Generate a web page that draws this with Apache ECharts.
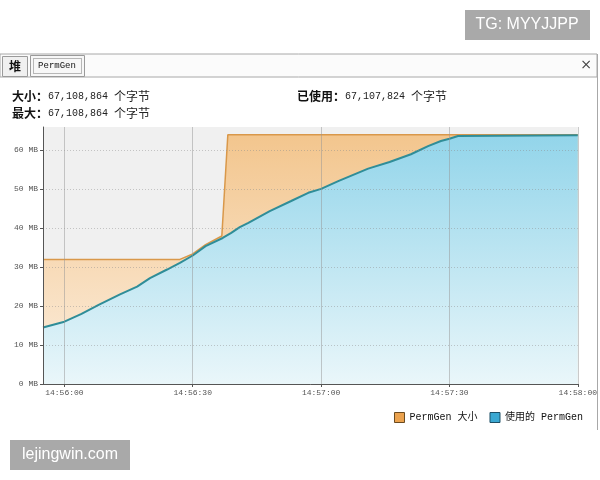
<!DOCTYPE html>
<html>
<head>
<meta charset="utf-8">
<script src="https://cdn.jsdelivr.net/npm/echarts@6/dist/echarts.min.js"></script>
<style>
  html, body { margin: 0; padding: 0; background: #fff; }
  #container { width: 600px; height: 480px; }
</style>
</head>
<body>
<div id="container"></div>
<script>
// seconds relative to 14:56:00
var usedSec = [-5, 0, 4, 8, 13, 17, 20, 24, 27, 30, 33, 37, 39, 41, 43, 48, 53, 57, 60, 64, 71, 76, 81, 85, 88, 90, 92, 120];
var usedMB = [14.5, 16.0, 18.0, 20.3, 23.0, 25.0, 27.2, 29.4, 31.1, 33.0, 35.4, 37.5, 38.8, 40.3, 41.4, 44.4, 47.0, 49.1, 50.1, 52.1, 55.3, 57.0, 59.0, 61.1, 62.4, 63.0, 63.7, 63.9];

var sizeSec = [-5, 27, 30, 33, 36.8, 38.2, 120];
var sizeMB = [32, 32, 33.4, 35.8, 38.0, 64, 64];

var xTicks = [0, 30, 60, 90, 120];
var yTicks = [0, 10, 20, 30, 40, 50, 60];
var seriesNames = ['PermGen 大小', '使用的 PermGen'];

function pairs(xs, ys) {
    return xs.map(function (x, i) { return [x, ys[i]]; });
}

function fmtTime(t) {
    var s = 14 * 3600 + 56 * 60 + t;
    var h = Math.floor(s / 3600), m = Math.floor(s % 3600 / 60), sec = s % 60;
    function p(n) { return (n < 10 ? '0' : '') + n; }
    return p(h) + ':' + p(m) + ':' + p(sec);
}

window.onload = function () {
    var dom = document.getElementById('container');
    var myChart = echarts.init(dom);
    var mono = '"Liberation Mono", monospace';
    var cjk = '"Noto Sans CJK SC", sans-serif';

    var header = {
        b: { fontFamily: cjk, fontWeight: 'bold', fontSize: 12, fill: '#111' },
        n: { fontFamily: mono, fontSize: 10, fill: '#222' },
        c: { fontFamily: cjk, fontSize: 12, fill: '#222' }
    };

    var option = {
        backgroundColor: '#fff',
        animation: false,
        graphic: [
            // watermarks
            { type: 'rect', shape: { x: 465, y: 10, width: 125, height: 30 }, style: { fill: '#a9a9a9' } },
            { type: 'text', x: 527, y: 25, style: { text: 'TG: MYYJJPP', fill: '#fff', font: '16px "Liberation Sans", Arial', align: 'center', verticalAlign: 'middle' } },
            { type: 'rect', shape: { x: 10, y: 440, width: 120, height: 30 }, style: { fill: '#a9a9a9' } },
            { type: 'text', x: 70, y: 455, style: { text: 'lejingwin.com', fill: '#fff', font: '16px "Liberation Sans", Arial', align: 'center', verticalAlign: 'middle' } },
            // window frame
            { type: 'rect', shape: { x: 0, y: 54, width: 597, height: 23 }, style: { fill: '#fbfbfb', stroke: '#a8a8a8', lineWidth: 1 } },
            { type: 'line', shape: { x1: 597.5, y1: 54, x2: 597.5, y2: 430 }, style: { stroke: '#a8a8a8', lineWidth: 1 } },
            { type: 'rect', shape: { x: 2.5, y: 56.5, width: 25, height: 20 }, style: { fill: '#f0f0f0', stroke: '#9a9a9a', lineWidth: 1 } },
            { type: 'text', x: 15, y: 66, style: { text: '堆', font: 'bold 12px "Noto Sans CJK SC"', fill: '#111', align: 'center', verticalAlign: 'middle' } },
            { type: 'rect', shape: { x: 30.5, y: 55.5, width: 54, height: 21 }, style: { fill: '#f7f7f7', stroke: '#9a9a9a', lineWidth: 1 } },
            { type: 'rect', shape: { x: 33.5, y: 58.5, width: 48, height: 15 }, style: { fill: 'none', stroke: '#777', lineWidth: 1, lineDash: [1, 1] } },
            { type: 'text', x: 57, y: 66, style: { text: 'PermGen', font: '9px "Liberation Mono"', fill: '#111', align: 'center', verticalAlign: 'middle' } },
            { type: 'text', x: 586, y: 65, style: { text: '×', font: '14px "DejaVu Sans"', fill: '#444', align: 'center', verticalAlign: 'middle' } },
            // header values
            { type: 'text', x: 12, y: 96, style: { text: '{b|大小：}{n|67,108,864 }{c|个字节}', rich: header, verticalAlign: 'middle' } },
            { type: 'text', x: 12, y: 113, style: { text: '{b|最大：}{n|67,108,864 }{c|个字节}', rich: header, verticalAlign: 'middle' } },
            { type: 'text', x: 297, y: 96, style: { text: '{b|已使用：}{n|67,107,824 }{c|个字节}', rich: header, verticalAlign: 'middle' } }
        ],
        grid: {
            left: 43, right: 21, top: 127, bottom: 96,
            show: true,
            backgroundColor: '#f0f0f0',
            borderWidth: 0
        },
        legend: {
            right: 12,
            top: 407,
            itemWidth: 10,
            itemHeight: 10,
            itemGap: 12,
            icon: 'rect',
            textStyle: { fontFamily: mono + ', ' + cjk, fontSize: 10, color: '#111' },
            data: [
                { name: seriesNames[0], itemStyle: { color: '#eba24e', borderColor: '#6a4a20', borderWidth: 1 } },
                { name: seriesNames[1], itemStyle: { color: '#3aa8d2', borderColor: '#1d4f66', borderWidth: 1 } }
            ]
        },
        xAxis: {
            type: 'value',
            min: -5,
            max: 120,
            z: 5,
            axisLine: { onZero: false, lineStyle: { color: '#555' } },
            axisTick: { length: 3, customValues: xTicks, lineStyle: { color: '#555' } },
            axisLabel: {
                customValues: xTicks,
                fontFamily: mono, fontSize: 8, color: '#555', margin: 5,
                formatter: fmtTime
            },
            splitLine: { show: true, lineStyle: { color: 'rgba(150,150,150,0.5)', width: 1 } }
        },
        yAxis: {
            type: 'value',
            min: 0,
            max: 66,
            z: 5,
            axisLine: { show: true, onZero: false, lineStyle: { color: '#555' } },
            axisTick: { show: true, length: 3, customValues: yTicks, lineStyle: { color: '#555' } },
            axisLabel: {
                customValues: yTicks,
                fontFamily: mono, fontSize: 8, color: '#555', margin: 5,
                formatter: function (v) { return v + ' MB'; }
            },
            splitLine: { show: true, lineStyle: { color: 'rgba(140,140,140,0.45)', type: [1, 2] } }
        },
        series: [
            {
                name: seriesNames[0],
                type: 'line',
                z: 1,
                data: pairs(sizeSec, sizeMB),
                symbol: 'none',
                color: '#eba24e',
                lineStyle: { color: '#d9984a', width: 1.5 },
                areaStyle: {
                    opacity: 0.92,
                    color: new echarts.graphic.LinearGradient(0, 0, 0, 1, [
                        { offset: 0, color: '#f3c285' },
                        { offset: 1, color: '#fdeedd' }
                    ])
                }
            },
            {
                name: seriesNames[1],
                type: 'line',
                z: 2,
                data: pairs(usedSec, usedMB),
                symbol: 'none',
                color: '#3aa8d2',
                lineStyle: { color: '#2f8d98', width: 2 },
                areaStyle: {
                    opacity: 0.92,
                    color: new echarts.graphic.LinearGradient(0, 0, 0, 1, [
                        { offset: 0, color: '#8ad6f2' },
                        { offset: 1, color: '#e8f7fc' }
                    ])
                }
            }
        ]
    };
    myChart.setOption(option);
};
</script>
</body>
</html>
